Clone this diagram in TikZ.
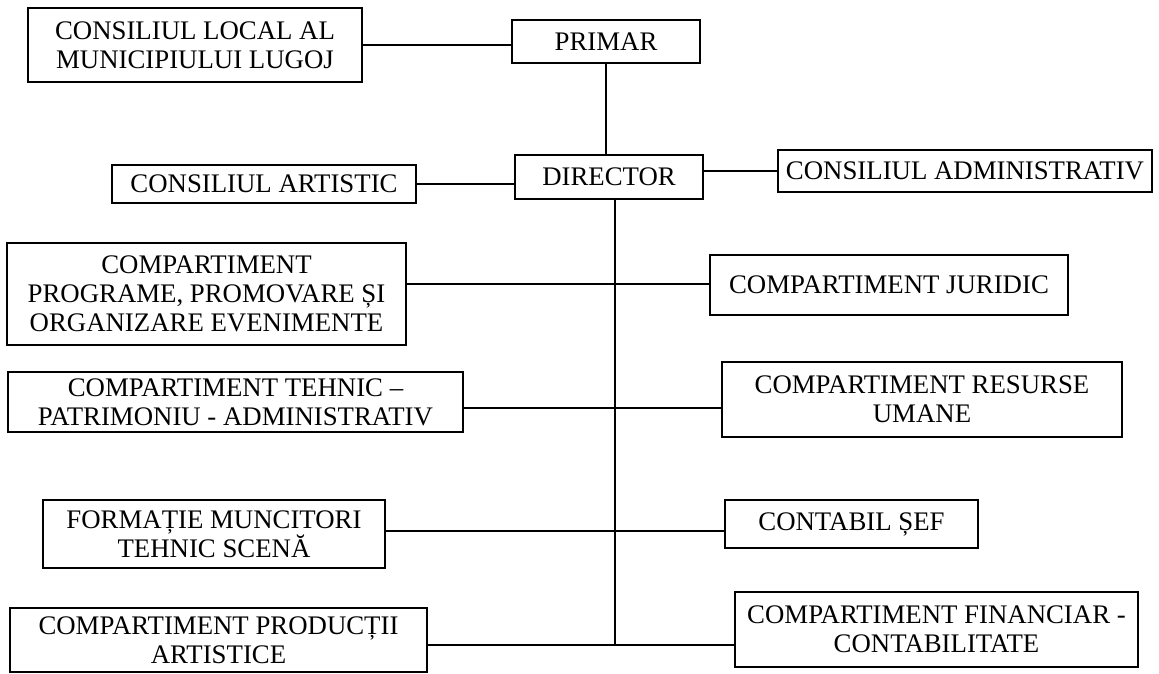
\documentclass[tikz,border=0pt]{standalone}
\usepackage{fontspec}
\setmainfont{Liberation Serif}
\usetikzlibrary{positioning}

\begin{document}
\begin{tikzpicture}[x=0.5pt,y=-0.5pt]
\tikzstyle{every node}+=[inner sep=0pt]
\tikzstyle{box}=[draw, line width=0.9pt, align=center, font=\fontsize{13.4}{14.4}\selectfont]
\useasboundingbox (0,0) rectangle (1159,673);
% top: council, mayor, director
\node [box, minimum width=167pt, minimum height=37pt] (local) at (195,45) {CONSILIUL LOCAL AL\\MUNICIPIULUI LUGOJ};
\node [box, minimum width=94pt, minimum height=21.5pt] (primar) at (606,41.5) {PRIMAR};
\node [box, minimum width=94pt, minimum height=22pt] (director) at (609,177) {DIRECTOR};
\node [box, minimum width=152pt, minimum height=19pt] (artistic) at (264,184) {CONSILIUL ARTISTIC};
\node [box, minimum width=187pt, minimum height=21pt] (admin) at (965,171) {CONSILIUL ADMINISTRATIV};
% left column
\node [box, minimum width=199.5pt, minimum height=51pt] (programe) at (206.5,294) {COMPARTIMENT\\PROGRAME, PROMOVARE ȘI\\ORGANIZARE EVENIMENTE};
\node [box, minimum width=227.5pt, minimum height=30pt] (tehnic) at (235.5,402) {COMPARTIMENT TEHNIC --\\PATRIMONIU - ADMINISTRATIV};
\node [box, minimum width=171pt, minimum height=34pt] (formatie) at (214,534) {FORMAȚIE MUNCITORI\\TEHNIC SCENĂ};
\node [box, minimum width=208.5pt, minimum height=32pt] (productii) at (218.5,640) {COMPARTIMENT PRODUCȚII\\ARTISTICE};
% right column
\node [box, minimum width=179pt, minimum height=30pt] (juridic) at (889,285) {COMPARTIMENT JURIDIC};
\node [box, minimum width=200pt, minimum height=37.5pt] (resurse) at (922,399.5) {COMPARTIMENT RESURSE\\UMANE};
\node [box, minimum width=126.5pt, minimum height=24pt] (contabil) at (851.5,524) {CONTABIL ȘEF};
\node [box, minimum width=201.5pt, minimum height=37.5pt] (financiar) at (936.5,629.5) {COMPARTIMENT FINANCIAR -\\CONTABILITATE};
% where the lines meet the trunk
\coordinate (row1) at (615,284);
\coordinate (row2) at (615,408);
\coordinate (row3) at (615,531);
\coordinate (row4) at (615,645);
\begin{scope}[line width=0.9pt]
\draw (local.east) -- (local.east -| primar.west);
\draw (primar.south) -- (primar.south |- director.north);
\draw (artistic.east) -- (artistic.east -| director.west);
\draw (director.east |- admin.west) -- (admin.west);
\draw (director.south -| row4) -- (row4);
\draw (programe.east |- row1) -- (juridic.west |- row1);
\draw (tehnic.east |- row2) -- (resurse.west |- row2);
\draw (formatie.east |- row3) -- (contabil.west |- row3);
\draw (productii.east |- row4) -- (financiar.west |- row4);
\end{scope}
\end{tikzpicture}
\end{document}
